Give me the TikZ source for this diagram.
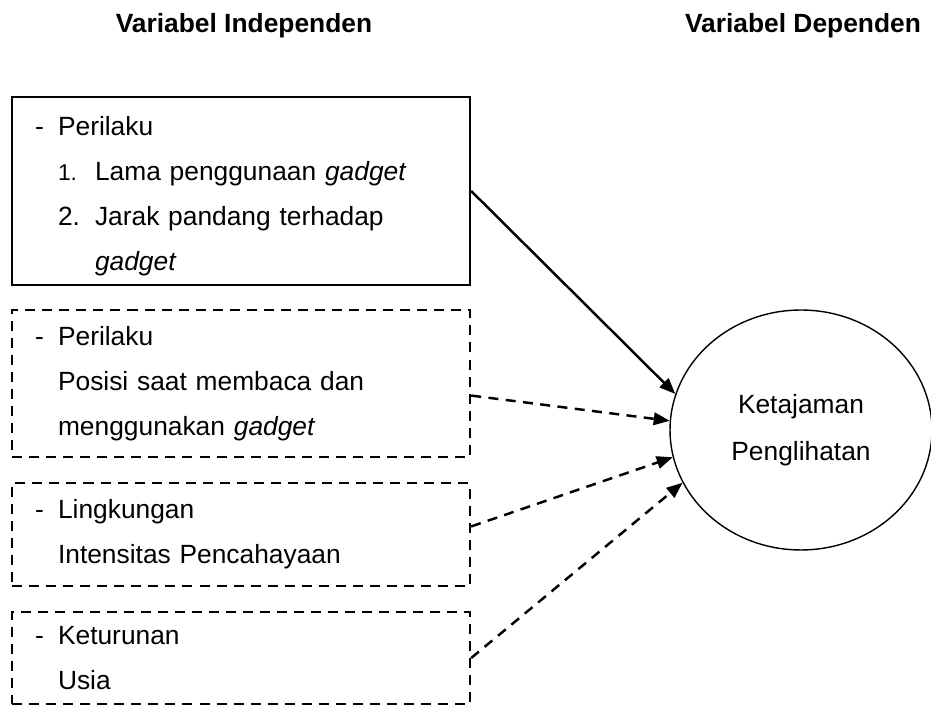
\documentclass[tikz,border=0pt]{standalone}
\usepackage{fontspec}
\setmainfont{Liberation Sans}
\usetikzlibrary{arrows.meta, shapes.geometric}

\begin{document}
\begin{tikzpicture}[x=0.02cm, y=-0.02cm,
    font=\fontsize{15}{25.6}\selectfont,
    box/.style={draw, line width=1.4pt, minimum width=9.16cm, inner xsep=0.46cm, text width=8.24cm, align=left},
    dashbox/.style={box, dash pattern=on 5.7pt off 4pt},
    link/.style={line width=1.4pt, -{Triangle[length=0.32cm, width=0.25cm]}},
    dashlink/.style={link, dash pattern=on 5.7pt off 4.2pt}]
    \useasboundingbox (0,0) rectangle (931,705);
    \node[anchor=base, font=\fontsize{15}{25.6}\selectfont\bfseries] (h1) at (244,33) {Variabel Independen};
    \node[anchor=base, font=\fontsize{15}{25.6}\selectfont\bfseries] (h2) at (803,33) {Variabel Dependen};
    \node[box, minimum height=3.76cm] (b1) at (241,191) {\rule{0pt}{0.58cm}\makebox[0.46cm][l]{-}Perilaku\\
      \hspace*{0.46cm}\makebox[0.74cm][l]{\fontsize{13}{25.6}\selectfont 1.}Lama penggunaan \textit{gadget}\\
      \hspace*{0.46cm}\makebox[0.74cm][l]{2.}Jarak pandang terhadap\\
      \hspace*{1.2cm}\textit{gadget}};
    \node[dashbox, minimum height=2.94cm] (b2) at (241,383.5) {\makebox[0.46cm][l]{-}Perilaku\\
      \hspace*{0.46cm}Posisi saat membaca dan\\
      \hspace*{0.46cm}menggunakan \textit{gadget}};
    \node[dashbox, minimum height=2.06cm] (b3) at (241,534.5) {\makebox[0.46cm][l]{-}Lingkungan\\
      \hspace*{0.46cm}Intensitas Pencahayaan};
    \node[dashbox, minimum height=1.84cm] (b4) at (241,658) {\makebox[0.46cm][l]{-}Keturunan\\
      \hspace*{0.46cm}Usia};
    \node[draw, ellipse, line width=0.8pt, minimum width=5.24cm, minimum height=4.8cm, inner sep=0pt,
      align=center, font=\fontsize{15}{26.7}\selectfont] (ell) at (801,430) {Ketajaman\\Penglihatan};
    \draw[link] (b1.east) -- (ell.164);
    \draw[dashlink] (b2.-3) -- (ell.176);
    \draw[dashlink] (b3.2) -- (ell.192);
    \draw[dashlink] (b4.east) -- (ell.204);
\end{tikzpicture}
\end{document}
